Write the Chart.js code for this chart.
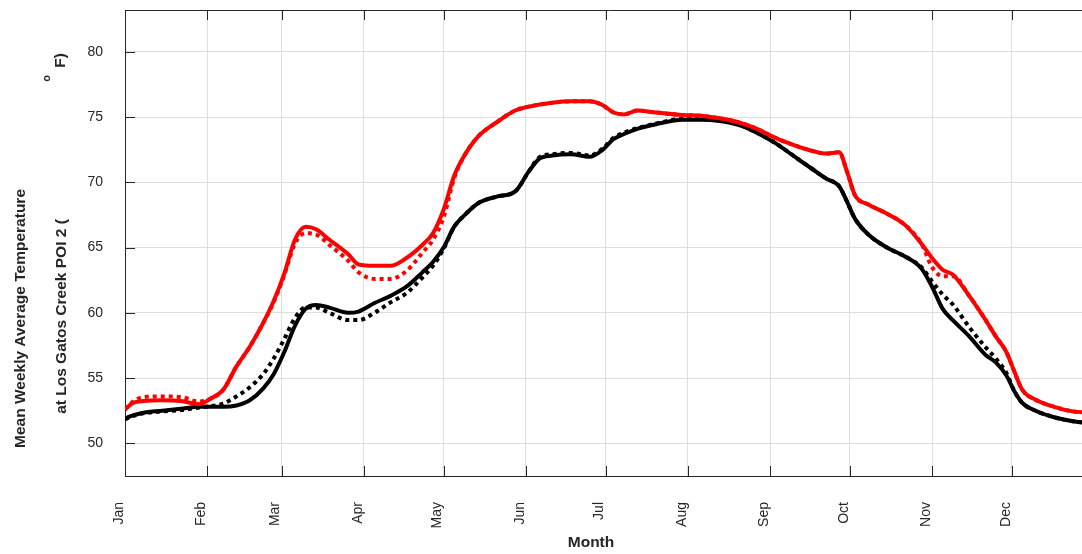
<!DOCTYPE html>
<html>
<head>
<meta charset="utf-8">
<script src="https://cdn.jsdelivr.net/npm/chart.js@4.4.1/dist/chart.umd.min.js"></script>
<style>
  html, body { margin: 0; padding: 0; background: #fff; overflow: hidden; }
  #wrap { width: 1100px; height: 554px; }
</style>
</head>
<body>
<div id="wrap"><canvas id="tempChart"></canvas></div>
<script>
// day of year (0 = Jan 1)
const days = [0, 3, 7, 14, 21, 28, 32, 37, 42, 47,
  52, 56, 60, 64, 68, 72, 77, 84, 88, 94,
  100, 106, 112, 116, 120, 124, 128, 133, 140, 147,
  152, 156, 161, 168, 175, 180, 184, 188, 193, 200,
  210, 217, 224, 231, 238, 245, 252, 259, 264, 269,
  272, 275, 280, 287, 294, 300, 304, 308, 312, 318,
  324, 328, 332, 335, 338, 343, 350, 357, 364];

// red solid
const redSolid = [52.6, 53.1, 53.25, 53.3, 53.25, 53.0, 53.4, 54.1, 55.9, 57.4,
  59.2, 60.9, 63.0, 65.6, 66.6, 66.4, 65.6, 64.5, 63.7, 63.6,
  63.6, 64.2, 65.2, 66.1, 67.9, 70.5, 72.1, 73.5, 74.6, 75.5,
  75.8, 75.95, 76.1, 76.2, 76.2, 75.9, 75.35, 75.2, 75.5, 75.35,
  75.15, 75.1, 74.9, 74.6, 74.1, 73.4, 72.85, 72.4, 72.2, 72.3,
  70.8, 69.0, 68.3, 67.6, 66.7, 65.3, 64.2, 63.3, 62.9, 61.3,
  59.5, 58.2, 57.0, 55.5, 54.1, 53.35, 52.8, 52.45, 52.35];

// red dotted
const redDotted = [52.6, 53.2, 53.55, 53.6, 53.55, 53.2, 53.4, 54.1, 55.9, 57.4,
  59.2, 60.8, 62.9, 65.3, 66.1, 66.0, 65.2, 64.0, 63.1, 62.6,
  62.6, 63.2, 64.6, 65.6, 67.3, 70.3, 72.1, 73.5, 74.6, 75.5,
  75.8, 75.95, 76.1, 76.2, 76.2, 75.9, 75.35, 75.2, 75.5, 75.35,
  75.15, 75.1, 74.9, 74.6, 74.1, 73.4, 72.85, 72.4, 72.2, 72.3,
  70.8, 69.0, 68.3, 67.6, 66.7, 65.3, 63.5, 62.8, 62.8, 61.3,
  59.5, 58.2, 57.0, 55.5, 54.1, 53.35, 52.8, 52.45, 52.35];

// black solid
const blackSolid = [51.9, 52.15, 52.35, 52.5, 52.65, 52.8, 52.8, 52.8, 52.9, 53.3,
  54.2, 55.3, 57.0, 59.0, 60.3, 60.6, 60.4, 60.0, 60.1, 60.75,
  61.3, 62.0, 63.1, 63.9, 65.0, 66.6, 67.5, 68.4, 68.9, 69.3,
  70.8, 71.8, 72.05, 72.15, 71.95, 72.5, 73.3, 73.7, 74.1, 74.45,
  74.8, 74.8, 74.7, 74.4, 73.8, 73.0, 72.0, 71.0, 70.3, 69.7,
  68.5, 67.2, 66.0, 65.0, 64.3, 63.4, 62.0, 60.3, 59.4, 58.2,
  56.8, 56.2, 55.2, 54.0, 53.1, 52.5, 52.0, 51.7, 51.55];

// black dotted
const blackDotted = [51.85, 52.1, 52.3, 52.45, 52.55, 52.75, 52.85, 53.05, 53.6, 54.3,
  55.3, 56.5, 58.0, 59.6, 60.4, 60.4, 60.0, 59.45, 59.45, 60.0,
  60.8, 61.5, 62.7, 63.6, 64.9, 66.6, 67.5, 68.4, 68.9, 69.3,
  70.8, 71.9, 72.15, 72.25, 72.05, 72.6, 73.4, 73.8, 74.15, 74.5,
  74.85, 74.85, 74.75, 74.45, 73.8, 73.0, 72.0, 71.0, 70.3, 69.7,
  68.5, 67.2, 66.0, 65.0, 64.3, 63.5, 62.4, 61.4, 60.6, 58.9,
  57.4, 56.5, 55.4, 54.0, 53.1, 52.5, 52.0, 51.7, 51.55];

const monthStarts = [0, 31, 59, 90, 120, 151, 181, 212, 243, 273, 304, 334];
const monthNames = ['Jan', 'Feb', 'Mar', 'Apr', 'May', 'Jun', 'Jul', 'Aug', 'Sep', 'Oct', 'Nov', 'Dec'];
const yTicks = [50, 55, 60, 65, 70, 75, 80];

const FONT = '"Liberation Sans", Arial, Helvetica, sans-serif';
const TEXT = '#262626';

const pts = arr => days.map((d, i) => ({ x: d, y: arr[i] }));

function vtext(ctx, str, x, y, font) {
    ctx.save();
    ctx.translate(x, y);
    ctx.rotate(-Math.PI / 2);
    ctx.font = font;
    ctx.textAlign = 'center';
    ctx.textBaseline = 'alphabetic';
    ctx.fillText(str, 0, 0);
    ctx.restore();
}

// box, inward ticks and axis titles
const framePlugin = {
    id: 'frame',
    afterDraw(chart) {
        const { ctx, chartArea: a, scales: { x, y } } = chart;
        ctx.save();
        ctx.strokeStyle = TEXT;
        ctx.lineWidth = 1;
        ctx.beginPath();
        ctx.moveTo(a.left, a.top + 0.5); ctx.lineTo(a.right, a.top + 0.5);
        ctx.moveTo(a.right - 0.5, a.top); ctx.lineTo(a.right - 0.5, a.bottom);
        monthStarts.forEach(d => {
            const px = Math.round(x.getPixelForValue(d)) + 0.5;
            ctx.moveTo(px, a.bottom); ctx.lineTo(px, a.bottom - 10);
            ctx.moveTo(px, a.top); ctx.lineTo(px, a.top + 10);
        });
        yTicks.forEach(v => {
            const py = Math.round(y.getPixelForValue(v)) + 0.5;
            ctx.moveTo(a.left, py); ctx.lineTo(a.left + 10, py);
            ctx.moveTo(a.right, py); ctx.lineTo(a.right - 10, py);
        });
        ctx.stroke();

        ctx.fillStyle = TEXT;
        ctx.font = 'bold 15.5px ' + FONT;
        ctx.textAlign = 'center';
        ctx.textBaseline = 'middle';
        ctx.fillText('Month', 591, 543);

        vtext(ctx, 'Mean Weekly Average Temperature', 24.5, 318.5, 'bold 15.5px ' + FONT);
        vtext(ctx, 'at Los Gatos Creek POI 2 (', 66, 316.5, 'bold 15.5px ' + FONT);
        vtext(ctx, 'o', 50, 78.5, 'bold 11px ' + FONT);
        vtext(ctx, 'F)', 65, 60.5, 'bold 15.5px ' + FONT);
        ctx.restore();
    }
};

const tempCtx = document.getElementById('tempChart').getContext('2d');
const tempChart = new Chart(tempCtx, {
    type: 'line',
    data: {
        datasets: [
            { data: pts(redSolid), borderColor: '#ff0000', borderWidth: 4, order: 1 },
            { data: pts(redDotted), borderColor: '#ff0000', borderWidth: 4, borderDash: [4, 4], order: 2 },
            { data: pts(blackSolid), borderColor: '#000000', borderWidth: 4, order: 3 },
            { data: pts(blackDotted), borderColor: '#000000', borderWidth: 4, borderDash: [4, 4], order: 4 }
        ]
    },
    options: {
        responsive: true,
        maintainAspectRatio: false,
        animation: false,
        layout: { padding: { top: 10, right: 6, bottom: 0, left: 0 } },
        elements: {
            point: { radius: 0 },
            line: { cubicInterpolationMode: 'monotone', fill: false, borderCapStyle: 'butt', borderJoinStyle: 'round' }
        },
        plugins: { legend: { display: false }, tooltip: { enabled: false } },
        scales: {
            x: {
                type: 'linear',
                min: 0,
                max: 365,
                afterBuildTicks: s => { s.ticks = monthStarts.map(v => ({ value: v })); },
                afterFit: s => { s.height = 78; },
                grid: { color: '#dedede', tickLength: 26, tickColor: 'rgba(0,0,0,0)' },
                border: { color: TEXT, width: 1 },
                ticks: {
                    autoSkip: false,
                    minRotation: 90,
                    maxRotation: 90,
                    padding: 0,
                    labelOffset: -6,
                    color: TEXT,
                    font: { family: FONT, size: 14 },
                    callback: v => monthNames[monthStarts.indexOf(v)]
                }
            },
            y: {
                min: 47.5,
                max: 83.2,
                afterBuildTicks: s => { s.ticks = yTicks.map(v => ({ value: v })); },
                afterFit: s => { s.width = 125; },
                grid: { color: '#dedede', tickLength: 22, tickColor: 'rgba(0,0,0,0)' },
                border: { color: TEXT, width: 1 },
                ticks: {
                    padding: 0,
                    color: TEXT,
                    font: { family: FONT, size: 14 }
                }
            }
        }
    },
    plugins: [framePlugin]
});
</script>
</body>
</html>
